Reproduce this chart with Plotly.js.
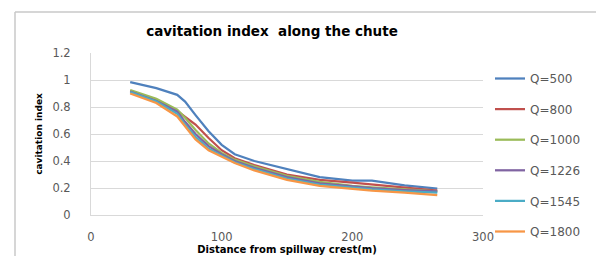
<!DOCTYPE html>
<html>
<head>
<meta charset="utf-8">
<script src="https://cdn.plot.ly/plotly-3.0.1.min.js"></script>
<style>
html,body{margin:0;padding:0;background:#fff;}
#chart{width:596px;height:256px;}
</style>
</head>
<body>
<div id="chart"></div>
<script>
// Data
const distance = [30, 50, 66, 72, 80, 90, 100, 110, 125, 150, 175, 200, 215, 240, 265];
const q500  = [0.985, 0.94, 0.89, 0.84, 0.74, 0.62, 0.52, 0.45, 0.40, 0.34, 0.28, 0.255, 0.255, 0.22, 0.195];
const q800  = [0.92, 0.85, 0.77, 0.73, 0.67, 0.57, 0.48, 0.42, 0.37, 0.30, 0.26, 0.24, 0.225, 0.20, 0.18];
const q1000 = [0.925, 0.86, 0.78, 0.72, 0.63, 0.53, 0.46, 0.41, 0.36, 0.29, 0.245, 0.215, 0.205, 0.19, 0.175];
const q1226 = [0.915, 0.845, 0.765, 0.69, 0.60, 0.51, 0.45, 0.40, 0.35, 0.28, 0.235, 0.21, 0.20, 0.185, 0.175];
const q1545 = [0.91, 0.84, 0.75, 0.67, 0.58, 0.49, 0.44, 0.39, 0.34, 0.27, 0.225, 0.20, 0.19, 0.175, 0.165];
const q1800 = [0.90, 0.83, 0.73, 0.66, 0.56, 0.48, 0.43, 0.385, 0.33, 0.26, 0.215, 0.19, 0.18, 0.165, 0.148];
const seriesNames = ['Q=500', 'Q=800', 'Q=1000', 'Q=1226', 'Q=1545', 'Q=1800'];
const seriesValues = [q500, q800, q1000, q1226, q1545, q1800];
const colors = ['#4F81BD', '#C0504D', '#9BBB59', '#8064A2', '#4BACC6', '#F79646'];
const xTicks = [0, 100, 200, 300];
const yTicks = [0, 0.2, 0.4, 0.6, 0.8, 1, 1.2];

const W = 596, H = 256;
const m = {l: 91, r: 113, t: 53, b: 41, autoexpand: false};
const pw = W - m.l - m.r, ph = H - m.t - m.b;
const px = v => (v - m.l) / pw;         // pixel -> paper x
const py = v => 1 - (v - m.t) / ph;     // pixel -> paper y

const traces = seriesNames.map((n, i) => ({
  type: 'scatter', mode: 'lines', name: n,
  x: distance, y: seriesValues[i],
  legendgroup: 'g' + i,
  line: {color: colors[i], width: 2.25}
}));

const FONT = '"DejaVu Sans", sans-serif';
const tickFont = {family: FONT, size: 11.5, color: '#595959'};

const layout = {
  width: W, height: H,
  margin: m,
  paper_bgcolor: '#fff', plot_bgcolor: '#fff',
  showlegend: true,
  title: {
    text: 'cavitation index\u00a0 along the chute',
    font: {family: FONT, size: 13.5, color: '#000', weight: 'bold'},
    xref: 'container', yref: 'container', x: 272 / W, y: 1 - 31 / H,
    xanchor: 'center', yanchor: 'middle'
  },
  xaxis: {
    range: [0, 300], tickvals: xTicks, ticktext: xTicks.map(String),
    showgrid: false, zeroline: false,
    showline: true, linecolor: '#d9d9d9', linewidth: 1,
    ticks: 'outside', ticklen: 11, tickcolor: 'rgba(0,0,0,0)',
    tickfont: tickFont,
    title: {text: 'Distance from spillway crest(m)', standoff: 1,
      font: {family: FONT, size: 10, color: '#000', weight: 'bold'}}
  },
  yaxis: {
    range: [0, 1.2], tickvals: yTicks, ticktext: yTicks.map(String),
    showgrid: true, gridcolor: '#d9d9d9', gridwidth: 1,
    zeroline: false,
    showline: true, linecolor: '#d9d9d9', linewidth: 1,
    ticks: 'outside', ticklen: 17, tickcolor: 'rgba(0,0,0,0)',
    tickfont: tickFont,
    title: {text: 'cavitation index', standoff: 8,
      font: {family: FONT, size: 9, color: '#000', weight: 'bold'}}
  },
  legend: {
    x: px(490), y: py(64), xanchor: 'left', yanchor: 'top',
    font: {family: FONT, size: 12, color: '#595959'},
    tracegroupgap: 11.6, bgcolor: 'rgba(0,0,0,0)', borderwidth: 0,
    maxheight: 256
  },
  shapes: [
    {type: 'line', xref: 'paper', yref: 'paper', x0: px(15), x1: px(596), y0: py(12), y1: py(12),
      line: {color: '#c8c8c8', width: 1.5}},
    {type: 'line', xref: 'paper', yref: 'paper', x0: px(15), x1: px(15), y0: py(12), y1: py(256),
      line: {color: '#c8c8c8', width: 1.5}}
  ]
};

Plotly.newPlot('chart', traces, layout, {displayModeBar: false, staticPlot: true});
</script>
</body>
</html>
